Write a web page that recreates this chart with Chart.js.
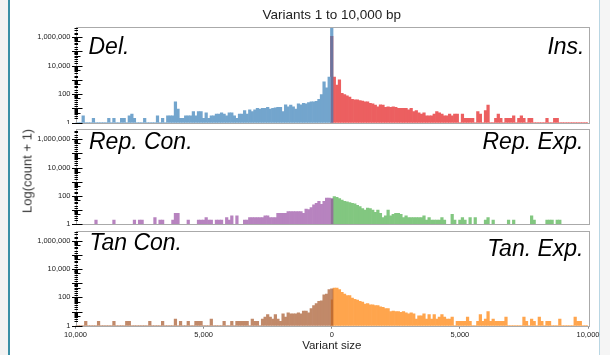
<!DOCTYPE html>
<html>
<head>
<meta charset="utf-8">
<script src="https://cdn.jsdelivr.net/npm/chart.js@4.4.1/dist/chart.umd.min.js"></script>
<style>
  body { margin: 0; background: #fff; }
  #page { position: relative; width: 610px; height: 355px; overflow: hidden; font-family: "Liberation Sans", Arial, sans-serif; }
  canvas { position: absolute; left: 0; }
  .frameL { position: absolute; left: 0; top: 0; width: 8px; height: 355px; background: #f3f3f3; border-right: 2px solid #3a8fa6; }
  .frameR { position: absolute; left: 599px; top: 0; width: 11px; height: 355px; background: #f5f5f5; border-left: 1px solid #b9d6e3; }
  .lbl { position: absolute; font-style: italic; font-size: 23px; line-height: 23px; color: #000; white-space: nowrap; }
  .ytitle { position: absolute; left: 27px; top: 171px; font-size: 13px; font-weight: normal; color: #333; white-space: nowrap;
            transform: translate(-50%, -50%) rotate(-90deg); }
</style>
</head>
<body>
<div id="page">
  <div class="frameL"></div>
  <div class="frameR"></div>
  <canvas id="p1" width="610" height="124" style="top:0"></canvas>
  <canvas id="p2" width="610" height="102" style="top:124px"></canvas>
  <canvas id="p3" width="610" height="129" style="top:226px"></canvas>
  <div class="lbl" style="left:88.5px; top:34.5px">Del.</div>
  <div class="lbl" style="right:25.5px; top:34.5px">Ins.</div>
  <div class="lbl" style="left:89px; top:129.8px">Rep. Con.</div>
  <div class="lbl" style="right:26.5px; top:129.8px">Rep. Exp.</div>
  <div class="lbl" style="left:89.5px; top:231.2px">Tan Con.</div>
  <div class="lbl" style="right:26.5px; top:236.5px">Tan. Exp.</div>
  <div class="ytitle">Log(count + 1)</div>
</div>
<script>
// bin i is centred on i*100 bp (deletions/contractions drawn at -i*100)
const binSize = 100;

const delCounts = [8000000, 1560, 276, 730, 93, 43, 30, 28, 28, 25,
  20, 22, 17, 20, 8, 12, 16, 12, 17, 5,
  11, 11, 10, 9, 8, 11, 9, 9, 8, 9,
  7, 5, 7, 3, 6, 3, 3, 1, 2, 4,
  4, 2, 3, 4, 3, 3, 2, 2, 1, 4,
  1, 5, 5, 2, 5, 2, 2, 2, 1, 1,
  8, 28, 2, 2, 2, 0, 1, 0, 2, 0,
  0, 0, 0, 1, 0, 0, 0, 1, 3, 2,
  0, 1, 1, 0, 0, 1, 0, 1, 0, 0,
  0, 0, 0, 1, 0, 0, 0, 2, 0, 0, 0];
const insCounts = [1100000, 1560, 425, 1000, 115, 93, 75, 60, 43, 39,
  39, 34, 31, 28, 28, 22, 20, 16, 12, 17,
  16, 11, 12, 11, 12, 11, 9, 9, 9, 9,
  7, 9, 5, 6, 4, 3, 4, 2, 2, 2,
  3, 5, 4, 3, 2, 2, 3, 2, 3, 3,
  0, 3, 1, 1, 1, 1, 0, 5, 3, 0,
  6, 16, 0, 0, 1, 3, 1, 0, 1, 1,
  1, 2, 0, 1, 2, 1, 0, 1, 1, 0,
  0, 0, 0, 0, 1, 0, 0, 1, 1, 0,
  0, 0, 0, 0, 0, 0, 0, 0, 0, 0, 0];
const repConCounts = [63, 70, 70, 41, 25, 41, 29, 23, 14, 10,
  11, 5, 7, 7, 7, 7, 7, 7, 5, 5,
  5, 5, 2, 2, 2, 3, 3, 2, 2, 2,
  2, 2, 2, 1, 1, 0, 0, 3, 0, 3,
  1, 2, 0, 1, 1, 1, 0, 1, 1, 2,
  1, 1, 1, 0, 0, 0, 1, 0, 0, 0,
  5, 5, 1, 0, 0, 0, 1, 1, 0, 2,
  0, 0, 0, 0, 1, 1, 0, 1, 0, 0,
  0, 0, 0, 0, 0, 1, 0, 0, 0, 0,
  0, 0, 1, 0, 0, 0, 0, 0, 0, 0, 0];
const repExpCounts = [60, 88, 79, 63, 51, 41, 37, 33, 29, 27,
  21, 17, 12, 9, 13, 12, 9, 6, 9, 5,
  2, 3, 9, 3, 4, 5, 5, 4, 2, 3,
  2, 2, 2, 2, 2, 2, 3, 1, 2, 1,
  1, 1, 1, 2, 1, 0, 0, 4, 1, 0,
  1, 2, 1, 0, 2, 0, 2, 0, 0, 0,
  1, 2, 0, 1, 0, 0, 0, 0, 0, 1,
  0, 1, 0, 0, 0, 0, 0, 0, 3, 1,
  0, 0, 0, 0, 1, 1, 1, 0, 1, 1,
  0, 0, 0, 0, 0, 0, 0, 0, 0, 0, 0];
const tanConCounts = [400, 360, 170, 150, 57, 51, 36, 26, 15, 7,
  10, 10, 6, 7, 6, 6, 6, 7, 3, 6,
  1, 2, 5, 2, 3, 5, 3, 2, 0, 1,
  1, 2, 0, 1, 1, 1, 1, 1, 0, 1,
  0, 0, 1, 0, 0, 0, 0, 2, 0, 0,
  0, 1, 1, 1, 0, 0, 1, 0, 0, 1,
  0, 2, 0, 0, 0, 0, 1, 0, 0, 0,
  0, 1, 0, 0, 0, 0, 0, 0, 0, 1,
  1, 0, 0, 0, 0, 1, 0, 0, 0, 0,
  0, 1, 0, 0, 0, 0, 1, 0, 0, 0, 0];
const tanExpCounts = [67, 450, 450, 360, 233, 170, 136, 136, 88, 71,
  64, 51, 45, 33, 36, 29, 29, 26, 26, 21,
  19, 15, 15, 9, 10, 9, 9, 8, 9, 7,
  6, 7, 6, 2, 4, 4, 6, 2, 5, 2,
  5, 2, 3, 5, 3, 2, 2, 3, 0, 1,
  1, 1, 1, 3, 1, 0, 0, 1, 5, 1,
  2, 9, 1, 2, 1, 1, 1, 1, 3, 0,
  0, 0, 0, 0, 0, 3, 1, 0, 2, 1,
  0, 3, 1, 0, 1, 1, 0, 0, 0, 2,
  0, 0, 0, 0, 0, 3, 1, 1, 0, 0, 0];

const xTickValues = [-10000, -5000, 0, 5000, 10000];
const yLabelValues = [1, 100, 10000, 1000000];
const yMax = 5000000;

// Set1 colours, shown at 70% opacity
const panelColors = [['#377eb8', '#e41a1c'], ['#984ea3', '#4daf4a'], ['#a65628', '#ff7f00']];
const barAlpha = 0.7;

function rgb(hex) {
  return [1, 3, 5].map(k => parseInt(hex.substr(k, 2), 16));
}
function onWhite(hex) {
  const c = rgb(hex).map(v => Math.round(v * barAlpha + 255 * (1 - barAlpha)));
  return `rgb(${c.join(',')})`;
}
function translucent(hex) {
  return `rgba(${rgb(hex).join(',')},${barAlpha})`;
}

const leadDigit = v => Math.round(v / Math.pow(10, Math.floor(Math.log10(v) + 1e-9)));

// plot frame and the log tick marks on the left
const framePlugin = {
  id: 'frame',
  afterDatasetsDraw(chart) {
    const { ctx, chartArea: a } = chart;
    const y = chart.scales.y;
    ctx.save();
    ctx.strokeStyle = '#aaaaaa';
    ctx.lineWidth = 1;
    ctx.strokeRect(Math.round(a.left) + 0.5, Math.round(a.top) + 0.5,
      Math.round(a.right - a.left), Math.round(a.bottom - a.top));
    ctx.strokeStyle = '#000';
    ctx.beginPath();
    y.ticks.forEach(t => {
      if (t.value >= yMax) return;
      const py = Math.round(y.getPixelForValue(t.value)) + 0.5;
      const d = leadDigit(t.value);
      const [x0, x1] = d === 1 ? [-3.5, 7] : d === 5 ? [-1, 5] : [-1, 2.5];
      ctx.moveTo(a.left + x0, py);
      ctx.lineTo(a.left + x1, py);
    });
    ctx.stroke();
    ctx.restore();
  }
};

function makePanel(id, leftCounts, rightCounts, colors, opts) {
  const [leftHex, rightHex] = colors;
  const leftData = leftCounts.map((c, i) => ({ x: -i * binSize, y: c + 1 }));
  const rightData = rightCounts.map((c, i) => ({ x: i * binSize, y: c + 1 }));
  const showX = !!opts.showX;

  return new Chart(document.getElementById(id), {
    type: 'bar',
    data: {
      datasets: [
        {
          data: leftData,
          backgroundColor: ctx => ctx.dataIndex === 0 ? translucent(leftHex) : onWhite(leftHex),
          grouped: false, barPercentage: 1, categoryPercentage: 1, borderWidth: 0
        },
        {
          data: rightData,
          backgroundColor: onWhite(rightHex),
          grouped: false, barPercentage: 1, categoryPercentage: 1, borderWidth: 0
        }
      ]
    },
    options: {
      responsive: false,
      animation: false,
      devicePixelRatio: 1,
      layout: { padding: opts.padding },
      plugins: {
        legend: { display: false },
        tooltip: { enabled: false },
        title: opts.title ? {
          display: true, text: opts.title, fullSize: false, color: '#222',
          font: { family: '"Liberation Sans", Arial', size: 13.5, weight: 'normal' },
          padding: { top: 7, bottom: 3.8 }
        } : { display: false }
      },
      scales: {
        x: {
          type: 'linear', min: -10000, max: 10000, offset: false,
          display: showX,
          grid: { offset: false, drawOnChartArea: false, drawTicks: true, tickLength: 3, tickColor: '#888' },
          border: { display: false },
          ticks: {
            stepSize: 5000, autoSkip: false, maxRotation: 0, padding: 2, color: '#222',
            font: { family: '"Liberation Sans", Arial', size: 7.5 },
            callback: v => xTickValues.includes(v) ? Math.abs(v).toLocaleString('en-US') : ''
          },
          title: {
            display: showX, text: 'Variant size', color: '#222',
            font: { family: '"Liberation Sans", Arial', size: 11.5 },
            padding: { top: 0, bottom: 2 }
          },
          afterFit: s => { if (showX) s.height = 29.3; }
        },
        y: {
          type: 'logarithmic', min: 1, max: yMax,
          grid: { display: false, drawTicks: false, tickLength: 0 },
          border: { display: false },
          ticks: {
            autoSkip: false, padding: 5, color: '#222',
            font: { family: '"Liberation Sans", Arial', size: 7.5 },
            callback: v => yLabelValues.includes(v) ? v.toLocaleString('en-US') : ''
          },
          afterFit: s => { s.width = 75.5; s.paddingTop = 0; s.paddingBottom = 0; }
        }
      }
    },
    plugins: [framePlugin]
  });
}

makePanel('p1', delCounts, insCounts, panelColors[0],
  { title: 'Variants 1 to 10,000 bp', padding: { top: 0, right: 22, bottom: 1.3, left: 0 } });
makePanel('p2', repConCounts, repExpCounts, panelColors[1],
  { padding: { top: 5.3, right: 22, bottom: 1.7, left: 0 } });
makePanel('p3', tanConCounts, tanExpCounts, panelColors[2],
  { showX: true, padding: { top: 5, right: 22, bottom: 0, left: 0 } });
</script>
</body>
</html>
